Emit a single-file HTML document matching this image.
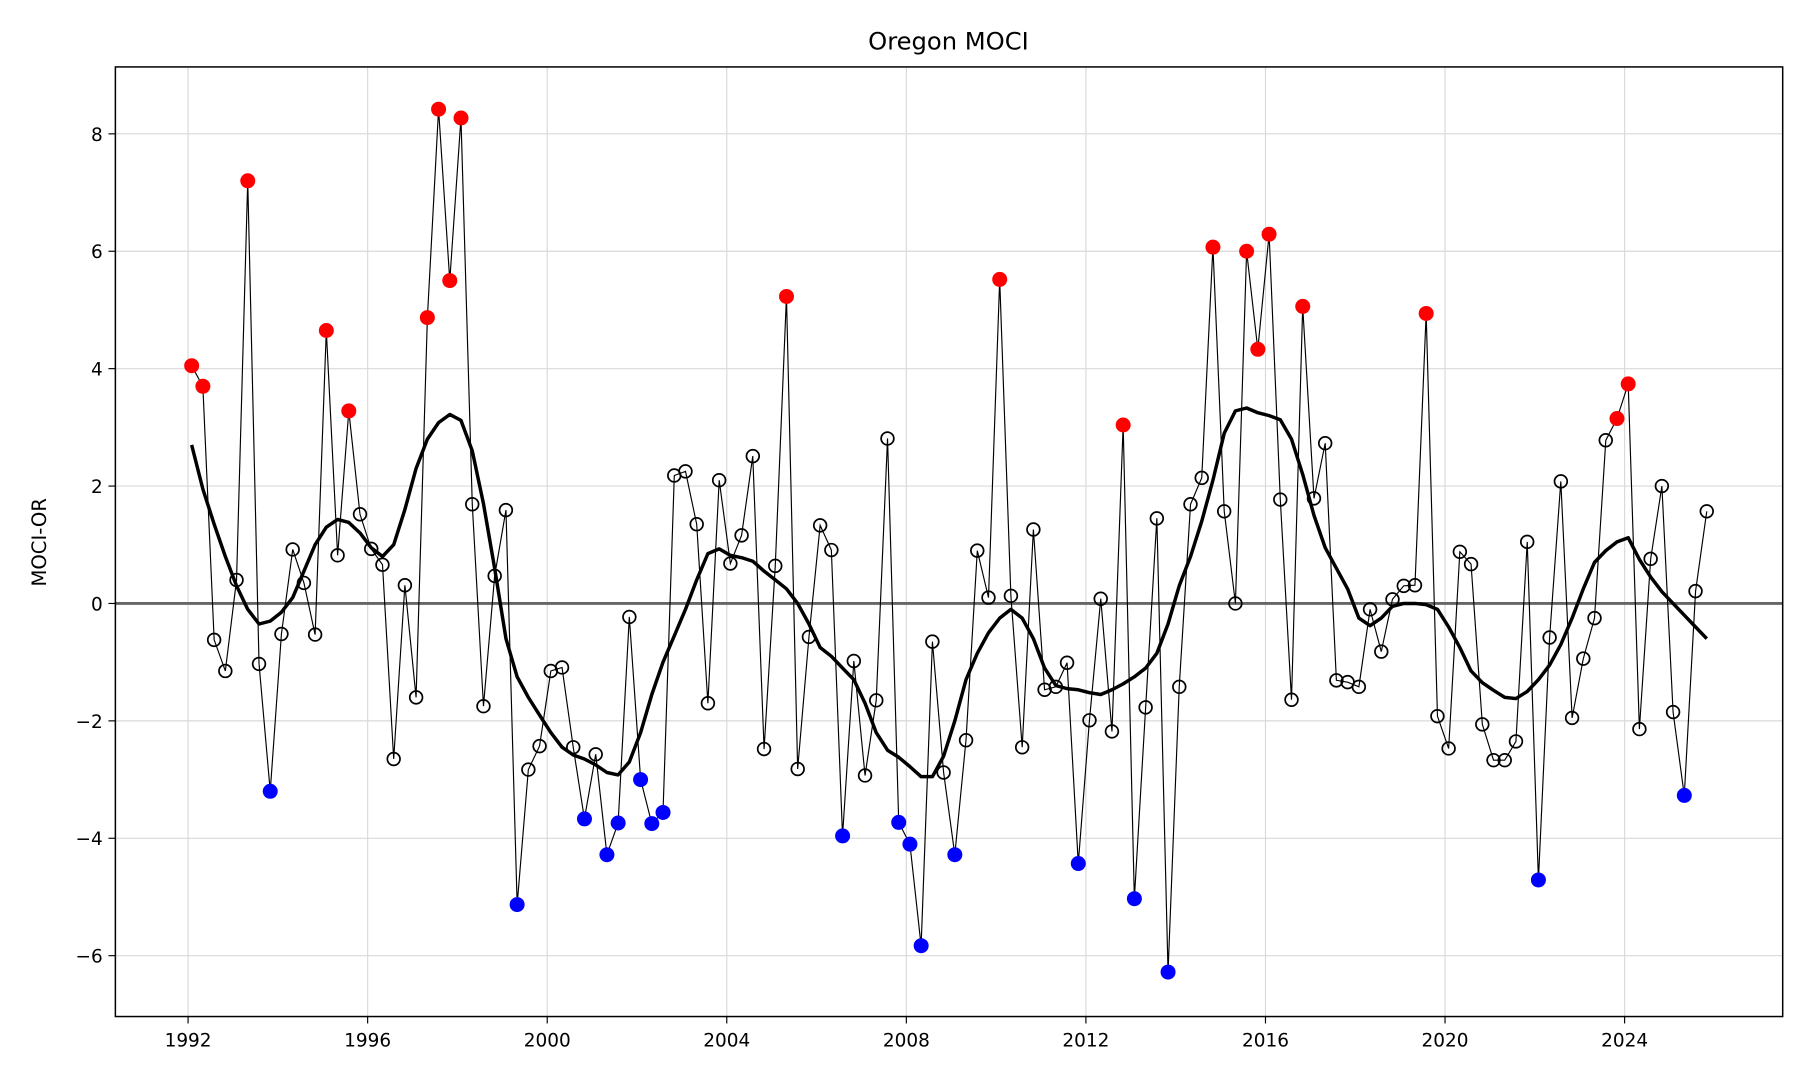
<!DOCTYPE html>
<html><head><meta charset="utf-8"><style>html,body{margin:0;padding:0;background:#fff}svg{display:block}</style></head>
<body>
<svg id="chart" width="1800" height="1080" viewBox="0 0 1560 936" xmlns="http://www.w3.org/2000/svg" font-family="'DejaVu Sans', 'Liberation Sans', sans-serif">
<rect width="1560" height="936" fill="#fff"/>
<text x="822" y="43" font-size="21" text-anchor="middle">Oregon MOCI</text>
<text transform="translate(40,470) rotate(-90)" font-size="17" text-anchor="middle">MOCI-OR</text>
<g id="grid"></g><g id="axes"></g><g id="marks"></g>
<rect x="100" y="58" width="1445" height="823" fill="none" stroke="#000" stroke-width="1.3"/>
</svg>
<script>
const startYear = 1992.08;
const step = 0.25;
const values = [4.05,3.7,-0.62,-1.15,0.4,7.2,-1.03,-3.2,-0.52,0.92,0.35,-0.53,4.65,0.82,3.28,1.52,0.93,0.66,-2.65,0.31,-1.6,4.87,8.42,5.5,8.27,1.69,-1.75,0.47,1.59,-5.13,-2.83,-2.43,-1.15,-1.09,-2.45,-3.67,-2.57,-4.28,-3.74,-0.23,-3.0,-3.75,-3.56,2.18,2.25,1.35,-1.7,2.1,0.68,1.16,2.51,-2.48,0.64,5.23,-2.82,-0.57,1.33,0.91,-3.96,-0.98,-2.93,-1.65,2.81,-3.73,-4.1,-5.83,-0.65,-2.88,-4.28,-2.33,0.9,0.1,5.52,0.13,-2.45,1.26,-1.47,-1.42,-1.01,-4.43,-1.99,0.08,-2.18,3.04,-5.03,-1.77,1.45,-6.28,-1.42,1.69,2.14,6.07,1.57,0.0,6.0,4.33,6.29,1.77,-1.64,5.06,1.79,2.73,-1.31,-1.34,-1.42,-0.1,-0.82,0.07,0.3,0.31,4.94,-1.92,-2.47,0.88,0.67,-2.06,-2.67,-2.67,-2.35,1.05,-4.71,-0.58,2.08,-1.95,-0.94,-0.25,2.78,3.15,3.74,-2.14,0.76,2.0,-1.85,-3.27,0.21,1.57];
const smooth = [2.7,1.95,1.35,0.8,0.3,-0.1,-0.35,-0.3,-0.15,0.1,0.55,1.0,1.3,1.43,1.38,1.2,0.95,0.8,1.0,1.6,2.3,2.8,3.08,3.22,3.12,2.6,1.7,0.6,-0.6,-1.25,-1.6,-1.9,-2.2,-2.45,-2.58,-2.65,-2.75,-2.88,-2.92,-2.7,-2.2,-1.55,-1.0,-0.55,-0.1,0.4,0.85,0.93,0.82,0.78,0.72,0.55,0.4,0.25,0.0,-0.35,-0.75,-0.9,-1.1,-1.3,-1.7,-2.2,-2.5,-2.62,-2.78,-2.95,-2.95,-2.6,-2.0,-1.3,-0.85,-0.5,-0.25,-0.1,-0.25,-0.6,-1.1,-1.4,-1.45,-1.47,-1.52,-1.55,-1.47,-1.37,-1.25,-1.1,-0.85,-0.35,0.3,0.8,1.4,2.1,2.9,3.28,3.33,3.25,3.2,3.13,2.8,2.2,1.5,0.95,0.6,0.25,-0.25,-0.38,-0.25,-0.05,0,0,-0.02,-0.1,-0.4,-0.75,-1.15,-1.35,-1.48,-1.6,-1.62,-1.5,-1.3,-1.05,-0.7,-0.25,0.25,0.7,0.9,1.05,1.12,0.75,0.45,0.2,0.0,-0.2,-0.4,-0.6];
const xTicks = [1992,1996,2000,2004,2008,2012,2016,2020,2024];
const yTicks = [-6,-4,-2,0,2,4,6,8];
const redThreshold = 2.95, blueThreshold = -2.95;

const NS = "http://www.w3.org/2000/svg";
const xs = y => 163 + (y - 1992) * 38.906;
const ys = v => 523 - v * 50.875;
function mk(tag, attrs, parent){const e=document.createElementNS(NS,tag);for(const k in attrs)e.setAttribute(k,attrs[k]);parent.appendChild(e);return e;}
const grid=document.getElementById('grid'), axes=document.getElementById('axes'), marks=document.getElementById('marks');

xTicks.forEach(t=>{
  const x=xs(t);
  const g=mk('line',{x1:x,x2:x,y1:58,y2:881,stroke:'#d9d9d9','stroke-width':1},grid);
  
  
  mk('line',{x1:x,x2:x,y1:881,y2:887,stroke:'#000','stroke-width':1},axes);
  const l=mk('text',{x:x,y:907,'font-size':16,'text-anchor':'middle'},axes);
  l.textContent=t;
  
  
});
yTicks.forEach(t=>{
  const y=ys(t);
  const g=mk('line',{x1:100,x2:1545,y1:y,y2:y,stroke:'#d9d9d9','stroke-width':1},grid);
  
  
  mk('line',{x1:94,x2:100,y1:y,y2:y,stroke:'#000','stroke-width':1},axes);
  const l=mk('text',{x:89,y:y+6,'font-size':16,'text-anchor':'end'},axes);
  l.textContent=(t<0?'\u2212'+(-t):t);
  
  
});
const zl=mk('line',{x1:100,x2:1545,y1:ys(0),y2:ys(0),stroke:'#666','stroke-width':2.5},marks);



const pts=values.map((v,i)=>xs(startYear+i*step).toFixed(1)+','+ys(v).toFixed(1)).join(' ');
const ln=mk('polyline',{points:pts,fill:'none',stroke:'#000','stroke-width':1},marks);


const sp=smooth.map((v,i)=>xs(startYear+i*step).toFixed(1)+','+ys(v).toFixed(1)).join(' ');
const sl=mk('polyline',{points:sp,fill:'none',stroke:'#000','stroke-width':3,'stroke-linejoin':'round'},marks);


values.forEach((v,i)=>{
  const x=xs(startYear+i*step), y=ys(v);
  let c;
  if(v>redThreshold){c=mk('circle',{cx:x,cy:y,r:6.5,fill:'#ff0000'},marks);}
  else if(v<blueThreshold){c=mk('circle',{cx:x,cy:y,r:6.5,fill:'#0000ff'},marks);}
  else{c=mk('circle',{cx:x,cy:y,r:5.5,fill:'none',stroke:'#000','stroke-width':1.5},marks);}
  
});
</script>
</body></html>
